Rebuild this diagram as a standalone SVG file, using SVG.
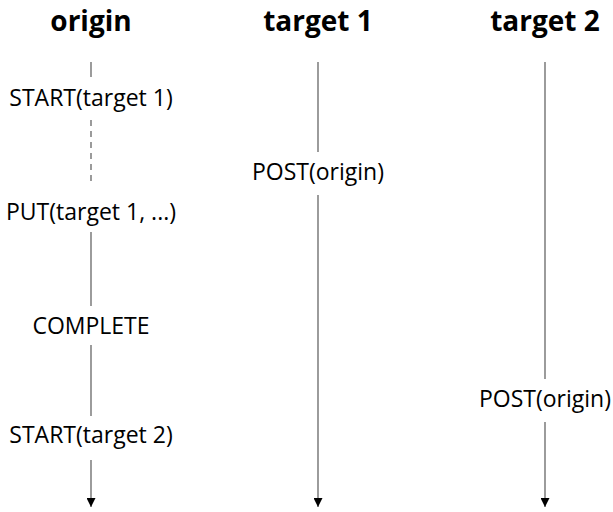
<svg xmlns="http://www.w3.org/2000/svg" width="613" height="512" viewBox="0 0 613 512">
<style>
.t{font-family:"Open Sans","Noto Sans",sans-serif;font-weight:bold;font-size:28px;fill:#000;text-anchor:middle}
.l{font-family:"Open Sans","Noto Sans",sans-serif;font-size:23px;fill:#000;text-anchor:middle}
.ln{stroke:#666;stroke-width:1.3;fill:none}
.d{stroke-dasharray:6 5}
</style>
<defs>
<marker id="ah" viewBox="0 0 10 10" refX="10" refY="5" markerWidth="9" markerHeight="9" markerUnits="userSpaceOnUse" orient="auto">
<path d="M0,0 L10,5 L0,10 z" fill="#000"/>
</marker>
</defs>
<rect width="613" height="512" fill="#fff"/>
<g id="origin"><text class="t" x="91" y="31">origin</text></g>
<g id="target1"><text class="t" x="318" y="31">target 1</text></g>
<g id="target2"><text class="t" x="545" y="31">target 2</text></g>
<g id="connectors">
<line class="ln" x1="91" y1="62" x2="91" y2="77"/>
<line class="ln d" x1="91" y1="120" x2="91" y2="185"/>
<line class="ln" x1="91" y1="232" x2="91" y2="306"/>
<line class="ln" x1="91" y1="345" x2="91" y2="416"/>
<line class="ln" x1="91" y1="460" x2="91" y2="507" marker-end="url(#ah)"/>
<line class="ln" x1="318" y1="62" x2="318" y2="152"/>
<line class="ln" x1="318" y1="195" x2="318" y2="507" marker-end="url(#ah)"/>
<line class="ln" x1="545" y1="62" x2="545" y2="379"/>
<line class="ln" x1="545" y1="422" x2="545" y2="507" marker-end="url(#ah)"/>
</g>
<g id="labels">
<text class="l" x="91" y="106">START(target 1)</text>
<text class="l" x="91" y="220">PUT(target 1, ...)</text>
<text class="l" x="91" y="334">COMPLETE</text>
<text class="l" x="91" y="443">START(target 2)</text>
<text class="l" x="318" y="180">POST(origin)</text>
<text class="l" x="545" y="407">POST(origin)</text>
</g>
</svg>
